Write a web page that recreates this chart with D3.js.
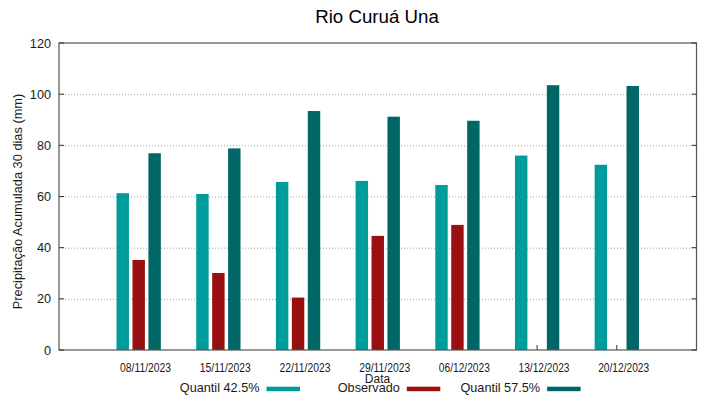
<!DOCTYPE html>
<html>
<head>
<meta charset="utf-8">
<script src="https://cdn.jsdelivr.net/npm/d3@7"></script>
<style>
  body { margin: 0; background: #fff; }
  text { font-family: "Liberation Sans", Arial, sans-serif; fill: #1a1a1a; }
</style>
</head>
<body>
<script>
// dates on the x axis
const DATAS = ["08/11/2023", "15/11/2023", "22/11/2023", "29/11/2023", "06/12/2023", "13/12/2023", "20/12/2023"];
// series values (mm)
const QUANTIL_425 = [61.3, 61.0, 65.7, 66.1, 64.5, 76.0, 72.4];
const OBSERVADO = [35.2, 30.1, 20.5, 44.6, 48.9, null, null];
const QUANTIL_575 = [76.9, 78.8, 93.4, 91.2, 89.6, 103.5, 103.2];
const SERIES = ["Quantil 42.5%", "Observado", "Quantil 57.5%"];
const Y_TICKS = [0, 20, 40, 60, 80, 100, 120];

var W = 719, H = 399;
var plotL = 59, plotR = 696.5, plotT = 43, plotB = 350;

var svg = d3.select("body").append("svg")
  .attr("width", W)
  .attr("height", H);

var x = d3.scaleLinear()
  .domain([-1, DATAS.length])
  .range([plotL, plotR]);

var y = d3.scaleLinear()
  .domain([0, 120])
  .range([plotB, plotT]);

// bars inside each date, in x data units
var xSub = d3.scaleBand()
  .domain(SERIES)
  .range([-0.3, 0.3])
  .paddingInner(0.22)
  .paddingOuter(0.11);

var color = d3.scaleOrdinal()
  .domain(SERIES)
  .range(["#009b9b", "#9a0f0f", "#006666"]);

// grid lines
svg.append("g")
  .selectAll("line")
  .data(Y_TICKS.filter(d => d > 0 && d < 120))
  .enter().append("line")
  .attr("x1", plotL).attr("x2", plotR)
  .attr("y1", d => y(d) + 0.5).attr("y2", d => y(d) + 0.5)
  .attr("stroke", "#a0a0a0")
  .attr("stroke-width", 1)
  .attr("stroke-dasharray", "1,2");

// build rows for the bars
var rows = [];
DATAS.forEach((d, i) => {
  rows.push({i: i, key: SERIES[0], value: QUANTIL_425[i]});
  rows.push({i: i, key: SERIES[1], value: OBSERVADO[i]});
  rows.push({i: i, key: SERIES[2], value: QUANTIL_575[i]});
});

svg.append("g")
  .selectAll("rect")
  .data(rows.filter(d => d.value != null))
  .enter().append("rect")
  .attr("x", d => x(d.i + xSub(d.key)))
  .attr("y", d => y(d.value))
  .attr("width", d => x(d.i + xSub(d.key) + xSub.bandwidth()) - x(d.i + xSub(d.key)))
  .attr("height", d => y(0) - y(d.value))
  .attr("fill", d => color(d.key));

// border
svg.append("rect")
  .attr("x", plotL).attr("y", plotT)
  .attr("width", plotR - plotL).attr("height", plotB - plotT)
  .attr("fill", "none")
  .attr("stroke", "#555")
  .attr("stroke-width", 1.2);

// y ticks, left and right, pointing inward
var yt = svg.append("g");
Y_TICKS.forEach(t => {
  yt.append("line")
    .attr("x1", plotL).attr("x2", plotL + 5)
    .attr("y1", y(t)).attr("y2", y(t))
    .attr("stroke", "#333");
  yt.append("line")
    .attr("x1", plotR - 5).attr("x2", plotR)
    .attr("y1", y(t)).attr("y2", y(t))
    .attr("stroke", "#333");
});

svg.append("g")
  .selectAll("text")
  .data(Y_TICKS)
  .enter().append("text")
  .attr("x", 51)
  .attr("y", d => y(d) + 4.5)
  .attr("text-anchor", "end")
  .style("font-size", "12.7px")
  .text(d => d);

// x ticks
svg.append("g")
  .selectAll("line")
  .data(DATAS)
  .enter().append("line")
  .attr("x1", (d, i) => x(i)).attr("x2", (d, i) => x(i))
  .attr("y1", plotB).attr("y2", plotB - 5)
  .attr("stroke", "#333");

svg.append("g")
  .selectAll("text")
  .data(DATAS)
  .enter().append("text")
  .attr("x", (d, i) => x(i) - 18.6)
  .attr("y", 371.5)
  .attr("textLength", 51)
  .attr("lengthAdjust", "spacingAndGlyphs")
  .style("font-family", "'Liberation Sans Narrow', 'Liberation Sans', sans-serif")
  .style("font-size", "12px")
  .text(d => d);

// title and axis labels
svg.append("text")
  .attr("x", 377).attr("y", 22.7)
  .attr("text-anchor", "middle")
  .style("font-size", "18.7px")
  .style("fill", "#000")
  .text("Rio Curuá Una");

svg.append("text")
  .attr("x", 377.5).attr("y", 382.5)
  .attr("text-anchor", "middle")
  .style("font-size", "12px")
  .text("Data");

svg.append("text")
  .attr("transform", "translate(22,201.5) rotate(-90)")
  .attr("text-anchor", "middle")
  .style("font-size", "12.8px")
  .text("Precipitação Acumulada 30 dias (mm)");

// legend
var legend = svg.append("g")
  .selectAll("g")
  .data(SERIES)
  .enter().append("g")
  .attr("transform", (d, i) => "translate(" + (259.5 + i * 140.3) + ",0)");

legend.append("text")
  .attr("x", 0).attr("y", 392)
  .attr("text-anchor", "end")
  .style("font-size", "12.7px")
  .text(d => d);

legend.append("rect")
  .attr("x", 7).attr("y", 386.7)
  .attr("width", 33.5).attr("height", 4.5)
  .attr("fill", d => color(d));
</script>
</body>
</html>
